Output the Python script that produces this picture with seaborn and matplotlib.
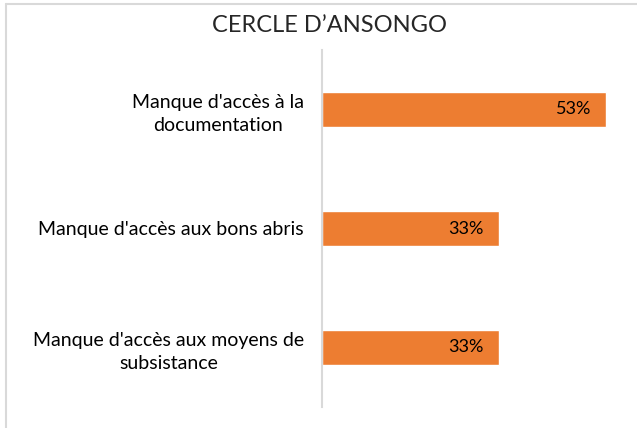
import matplotlib
matplotlib.use("Agg")
import matplotlib.pyplot as plt
import seaborn as sns
import pandas as pd
from matplotlib.lines import Line2D

TITLE = "CERCLE D\u2019ANSONGO"
categories = [
    "Manque d'accès à la\ndocumentation",
    "Manque d'accès aux bons abris",
    "Manque d'accès aux moyens de\nsubsistance",
]
values = [53, 33, 33]
value_labels = ["53%", "33%", "33%"]

df = pd.DataFrame({"cat": categories, "val": values})

sns.set_style("white")
plt.rcParams["font.family"] = ["Lato", "DejaVu Sans"]

W, H = 637, 428
fig = plt.figure(figsize=(W / 100, H / 100), dpi=100)
ax = fig.add_axes([322 / W, 1 - 407 / H, (625 - 322) / W, (407 - 50) / H])

sns.barplot(data=df, y="cat", x="val", color="#ED7D31", width=0.30,
            saturation=1, ax=ax, orient="h")
ax.set_xlim(0, 56.5)
ax.set_ylim(2.5, -0.5)
ax.set_xlabel("")
ax.set_ylabel("")
ax.set_xticks([])
for s in ["top", "right", "bottom"]:
    ax.spines[s].set_visible(False)
ax.spines["left"].set_color("#D9D9D9")
ax.spines["left"].set_linewidth(1.5)
ax.tick_params(axis="y", length=0, pad=13)
for t in ax.get_yticklabels():
    t.set_fontsize(14)
    t.set_multialignment("center")
    t.set_linespacing(1.45)
    t.set_color("#000000")

for i, (v, lab) in enumerate(zip(values, value_labels)):
    ax.text(v - 2.8, i, lab, ha="right", va="center", fontsize=13, color="#000000")

fig.text(330 / W, 1 - 25 / H, TITLE, ha="center", va="center", fontsize=17)

# chart frame (only left and top edges visible)
fig.add_artist(Line2D([6 / W, 6 / W], [0, 1 - 4 / H], transform=fig.transFigure,
                      color="#D9D9D9", lw=1.5))
fig.add_artist(Line2D([6 / W, 1], [1 - 4 / H, 1 - 4 / H], transform=fig.transFigure,
                      color="#D9D9D9", lw=1.5))

fig.savefig("out.png", dpi=100, facecolor="white")
